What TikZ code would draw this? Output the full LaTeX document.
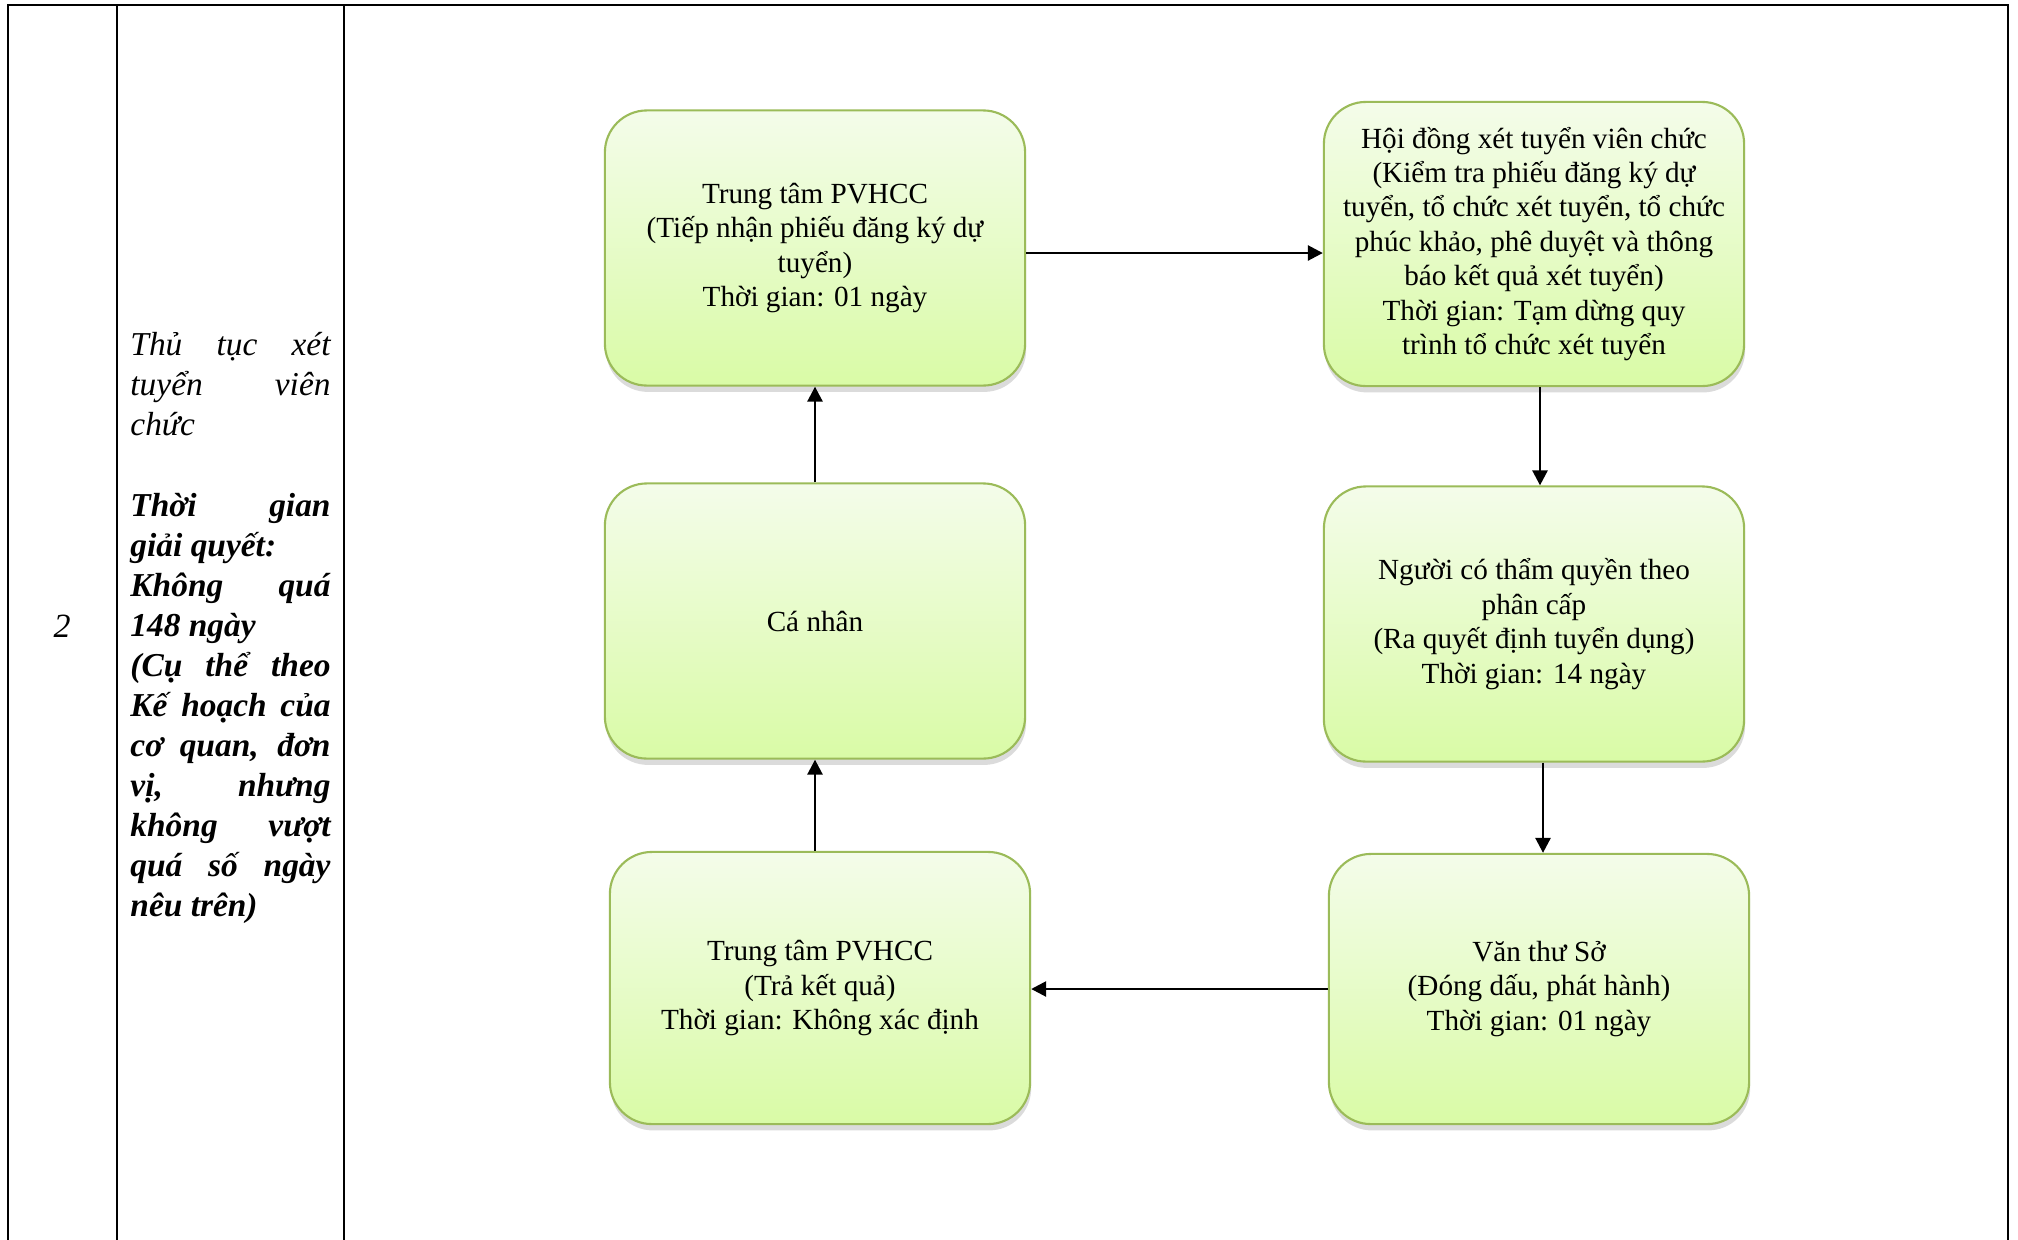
\documentclass[tikz,border=0pt]{standalone}
\usepackage{fontspec}
\setmainfont{Liberation Serif}
\usepackage{xcolor}
\definecolor{boxedge}{HTML}{9BBB59}
\definecolor{boxtop}{HTML}{F4FCEA}
\definecolor{boxbottom}{HTML}{D9FBA6}
\usetikzlibrary{arrows.meta, shadows}

\begin{document}
\begin{tikzpicture}[x=0.01cm, y=-0.01cm,
  procbox/.style={draw=boxedge, line width=0.6pt, rounded corners=0.42cm,
    top color=boxtop, bottom color=boxbottom,
    drop shadow={shadow xshift=0.3pt, shadow yshift=-1.8pt, opacity=0.2, fill=black!70},
    minimum width=4.2cm, minimum height=2.75cm, align=center, inner sep=2pt,
    font=\fontsize{8.3}{9.8}\selectfont},
  flowarrow/.style={line width=0.75pt, -{Triangle[length=1.5mm, width=1.5mm]}},
  tableline/.style={line width=0.8pt}]
  \useasboundingbox (0,0) rectangle (2018,1239);

  % --- Table frame ---
  \draw[tableline] (8,1245) -- (8,5) -- (2008,5) -- (2008,1245);
  \draw[tableline] (117,5) -- (117,1245);
  \draw[tableline] (344,5) -- (344,1245);

  % --- Left columns ---
  \node[font=\fontsize{9.65}{11.38}\selectfont\itshape] (stt) at (62,626) {2};
  \node[text width=2.0cm, align=justify, inner sep=0pt, font=\fontsize{9.5}{11.38}\selectfont] (thutuc) at (230.5,628)
    {\itshape Thủ tục xét\linebreak tuyển viên\linebreak chức\par
     \vspace{\baselineskip}
     \bfseries Thời gian\linebreak giải quyết:\newline Không quá\linebreak 148 ngày\newline
     (Cụ thể theo\linebreak Kế hoạch của\linebreak cơ quan, đơn\linebreak vị, nhưng\linebreak
     không vượt\linebreak quá số ngày\linebreak nêu trên)\par};

  % --- Top row ---
  \node[procbox] (tiepnhan) at (815,248)
    {Trung tâm PVHCC\\(Tiếp nhận phiếu đăng ký dự\\tuyển)\\Thời gian: 01 ngày};
  \node[procbox, minimum height=2.84cm] (hoidong) at (1534,244)
    {Hội đồng xét tuyển viên chức\\ (Kiểm tra phiếu đăng ký dự\\tuyển, tổ chức xét tuyển, tổ chức\\phúc khảo, phê duyệt và thông\\báo kết quả xét tuyển)\\Thời gian: Tạm dừng quy\\trình tổ chức xét tuyển};

  % --- Middle row ---
  \node[procbox] (canhan) at (815,621) {Cá nhân};
  \node[procbox] (nguoicotq) at (1534,624)
    {Người có thẩm quyền theo\\phân cấp\\(Ra quyết định tuyển dụng)\\Thời gian: 14 ngày};

  % --- Bottom row ---
  \node[procbox, minimum height=2.72cm] (trakq) at (820,988)
    {Trung tâm PVHCC\\(Trả kết quả)\\Thời gian: Không xác định};
  \node[procbox, minimum height=2.70cm] (vanthu) at (1539,989)
    {Văn thư Sở\\(Đóng dấu, phát hành)\\Thời gian: 01 ngày};

  % --- Arrows ---
  \draw[flowarrow] ([yshift=-0.5mm]tiepnhan.east) -- ([yshift=-0.5mm]tiepnhan.east -| hoidong.west);
  \draw[flowarrow] ([xshift=0.6mm]hoidong.south) -- ([xshift=0.6mm]nguoicotq.north);
  \draw[flowarrow] ([xshift=0.9mm]nguoicotq.south) -- ([xshift=0.9mm]nguoicotq.south |- vanthu.north);
  \draw[flowarrow] (vanthu.west) -- (vanthu.west -| trakq.east);
  \draw[flowarrow] (trakq.north -| canhan.south) -- (canhan.south);
  \draw[flowarrow] (canhan) -- (tiepnhan);
\end{tikzpicture}
\end{document}
